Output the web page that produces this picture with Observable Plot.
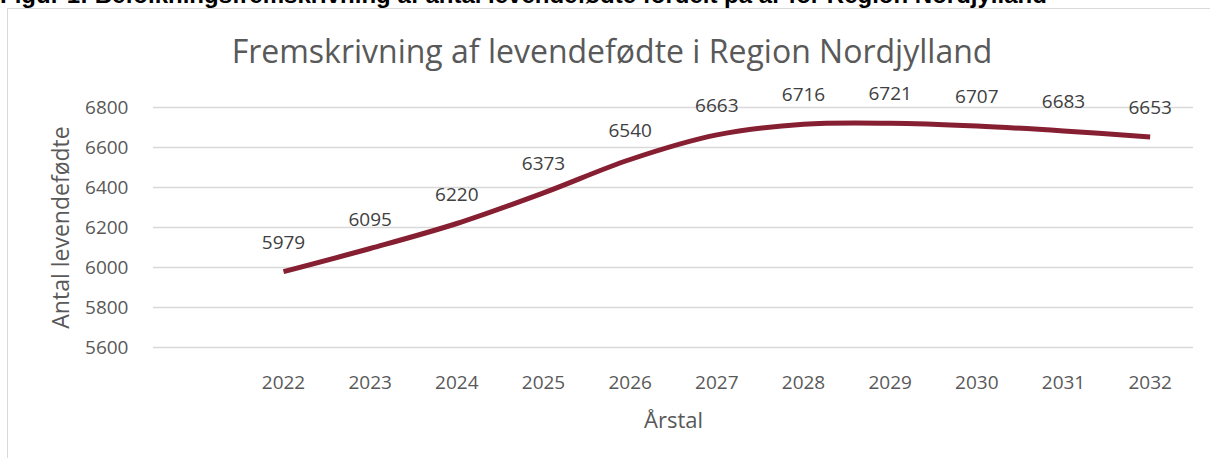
<!DOCTYPE html>
<html>
<head>
<meta charset="utf-8">
<script src="https://cdn.jsdelivr.net/npm/d3@7"></script>
<script src="https://cdn.jsdelivr.net/npm/@observablehq/plot@0.6"></script>
<style>
  html, body { margin: 0; padding: 0; background: #fff; }
  body { width: 1210px; height: 458px; overflow: hidden; position: relative; }
  #fig { position: absolute; left: 0; top: -17px; font: bold 24px "Liberation Sans", Arial, sans-serif; color: #000; white-space: nowrap; line-height: 24px; }
  #frame { position: absolute; left: 7px; top: 8px; width: 1300px; height: 600px; border: 1.5px solid #d9d9d9; }
  #title { position: absolute; left: 0; width: 1224px; top: 34.6px; text-align: center; font: 32px "Open Sans", sans-serif; line-height: 32px; color: #595959; white-space: nowrap; }
  #chart { position: absolute; left: 0; top: 0; }
</style>
</head>
<body>
<div id="fig">Figur 1: Befolkningsfremskrivning af antal levendefødte fordelt på år for Region Nordjylland</div>
<div id="frame"></div>
<div id="chart"></div>
<div id="title">Fremskrivning af levendefødte i Region Nordjylland</div>
<script>
const years = [2022, 2023, 2024, 2025, 2026, 2027, 2028, 2029, 2030, 2031, 2032];
const births = [5979, 6095, 6220, 6373, 6540, 6663, 6716, 6721, 6707, 6683, 6653];
const yTicks = [5600, 5800, 6000, 6200, 6400, 6600, 6800];

const data = years.map((y, i) => ({year: y, value: births[i]}));

const chart = Plot.plot({
  width: 1210,
  height: 458,
  marginLeft: 153,
  marginRight: 17,
  marginTop: 107,
  marginBottom: 111,
  style: {fontFamily: "'Open Sans', sans-serif", fontSize: "19px", color: "#595959", background: "transparent"},
  x: {domain: [2020.5, 2032.5], ticks: years, tickFormat: d => String(d), tickSize: 0, tickPadding: 28,
      label: "Årstal", labelAnchor: "center", labelOffset: 80, labelArrow: false},
  y: {domain: [5600, 6800], ticks: yTicks, tickFormat: d => String(d), tickSize: 0, tickPadding: 25,
      label: "Antal levendefødte", labelAnchor: "center", labelOffset: 101, labelArrow: false},
  marks: [
    Plot.ruleY(yTicks, {stroke: "#d9d9d9", strokeWidth: 1.5}),
    Plot.line(data, {x: "year", y: "value", stroke: "#861f31", strokeWidth: 5, curve: "catmull-rom", strokeLinecap: "butt"}),
    Plot.text(data, {x: "year", y: "value", text: d => String(d.value), dy: -29, fill: "#404040", fontSize: 19})
  ]
});
chart.querySelectorAll("g[aria-label='x-axis label'] text").forEach(t => {
  t.setAttribute("font-size", "22");
  t.textContent = t.textContent.replace(/[↑→←↓]/g, "").trim();
});
chart.querySelectorAll("g[aria-label='y-axis label'] text").forEach(t => {
  t.setAttribute("font-size", "23");
  t.textContent = t.textContent.replace(/[↑→←↓]/g, "").trim();
});
document.getElementById("chart").appendChild(chart);
</script>
</body>
</html>
